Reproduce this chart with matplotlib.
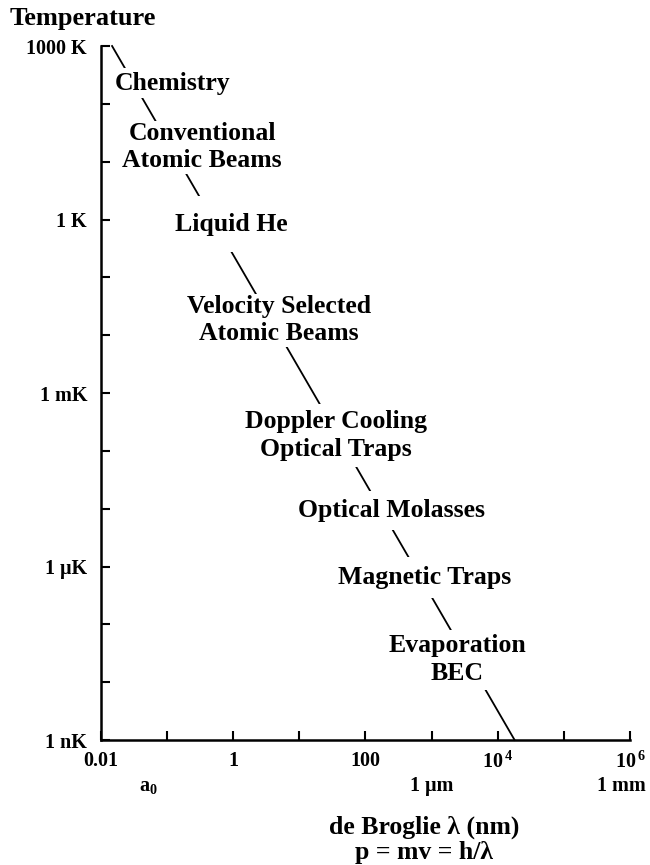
import matplotlib.pyplot as plt
import numpy as np

plt.rcParams['font.family'] = ['Liberation Serif', 'DejaVu Serif']
plt.rcParams['font.weight'] = 'bold'
plt.rcParams['mathtext.fontset'] = 'custom'
plt.rcParams['mathtext.rm'] = 'Liberation Serif:bold'
plt.rcParams['mathtext.it'] = 'Liberation Serif:bold'
plt.rcParams['mathtext.bf'] = 'Liberation Serif:bold'

# de Broglie wavelength (nm) vs temperature (K), end points of the line
lam_line = [0.0147, 1.8e4]
temp_line = [1e3, 1e-9]

# regimes along the line
regimes = ['Chemistry', 'Conventional\nAtomic Beams', 'Liquid He',
           'Velocity Selected\nAtomic Beams', 'Doppler Cooling\nOptical Traps',
           'Optical Molasses', 'Magnetic Traps', 'Evaporation\nBEC']
regime_lam = [0.119, 0.337, 0.927, 4.93, 35.9, 251, 794, 2430]
regime_temp = [229, 17.9, 0.83, 0.0182, 1.86e-4, 9.3e-6, 6.5e-7, 2.45e-8]
regime_pad = [0.15, 0.05, 0.65, 0.05, 0.25, 0.3, 0.35, 0.18]

xticks = [10.0**k for k in range(-2, 7)]
xticklabels = ['0.01', '', '1', '', '100', '', r'$10^{\,4}$', '', r'$10^{\,6}$']
yticks = [10.0**k for k in range(-9, 4)]
yticklabels = ['1 nK', '', '', '1 \u03bcK', '', '', '1 mK', '', '', '1 K', '', '', '1000 K']

# second row of length marks under the x axis
len_marks = ['a$_0$', '1 \u03bcm', '1 mm']
len_pos = [0.0529, 1000, 7.5e5]

fig = plt.figure(figsize=(6.5, 8.65), dpi=100)
ax = fig.add_axes([0.1554, 0.1445, 0.8138, 0.8023])

ax.plot(lam_line, temp_line, color='black', lw=1.3, clip_on=False, zorder=1)

for txt, x, y, p in zip(regimes, regime_lam, regime_temp, regime_pad):
    ax.text(x, y, txt, ha='center', va='center', fontsize=18.5,
            fontweight='bold', linespacing=1.25, zorder=3,
            bbox=dict(boxstyle=f'square,pad={p}', fc='white', ec='none'))

ax.set_xscale('log')
ax.set_yscale('log')
ax.set_xlim(0.01, 1e6)
ax.set_ylim(1e-9, 1e3)

ax.xaxis.set_minor_locator(plt.NullLocator())
ax.yaxis.set_minor_locator(plt.NullLocator())
ax.set_xticks(xticks)
ax.set_xticklabels(xticklabels)
ax.set_yticks(yticks)
ax.set_yticklabels(yticklabels)
ax.tick_params(direction='in', length=6.5, width=1.5, labelsize=14.5, pad=10)
ax.tick_params(axis='x', pad=8)

for s in ['top', 'right']:
    ax.spines[s].set_visible(False)
for s in ['left', 'bottom']:
    ax.spines[s].set_linewidth(1.8)

for txt, x in zip(len_marks, len_pos):
    ax.annotate(txt, xy=(x, 1e-9), xytext=(0, -26), textcoords='offset points',
                ha='center', va='top', fontsize=14.5, fontweight='bold',
                annotation_clip=False)

fig.text(0.015, 0.979, 'Temperature', ha='left', va='center',
         fontsize=19, fontweight='bold')
fig.text(0.652, 0.029, 'de Broglie \u03bb (nm)\np = mv = h/\u03bb', ha='center',
         va='center', fontsize=18.5, fontweight='bold', linespacing=1.12)

fig.savefig('out.png', dpi=100, facecolor='white')
